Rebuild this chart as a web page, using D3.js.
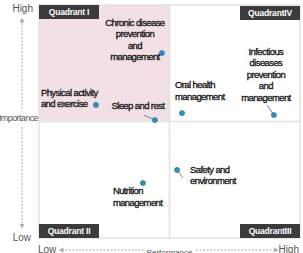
<!DOCTYPE html>
<html>
<head>
<meta charset="utf-8">
<script src="https://cdn.jsdelivr.net/npm/d3@7"></script>
<style>
  body { margin: 0; background: #fff; }
  svg { display: block; font-family: "Liberation Sans", Arial, sans-serif; }
</style>
</head>
<body>
<svg id="chart" width="303" height="253"></svg>
<script>
// data: performance (x) and importance (y), both 0-100
const items = [
  "Chronic disease prevention and management",
  "Physical activity and exercise",
  "Sleep and rest",
  "Oral health management",
  "Infectious diseases prevention and management",
  "Safety and environment",
  "Nutrition management"
];
const performance = [47.1, 21.8, 44.4, 54.8, 90.0, 52.9, 39.8];
const importance = [79.4, 57.1, 50.6, 53.6, 52.8, 29.2, 23.6];
const quadrantNames = ["Quadrant I", "QuadrantIV", "Quadrant II", "QuadrantIII"];
const axisLabels = { low: "Low", high: "High", x: "Performance", y: "Importance" };

// label lines and placement relative to the dot
const labelLines = [
  ["Chronic disease", "prevention", "and", "management"],
  ["Physical activity", "and exercise"],
  ["Sleep and rest"],
  ["Oral health", "management"],
  ["Infectious", "diseases", "prevention", "and", "management"],
  ["Safety and", "environment"],
  ["Nutrition", "management"]
];
const labelLayout = [
  { dx: -27, dy: -27, anchor: "middle", lead: null },
  { dx: -55, dy: -9, anchor: "start", lead: null },
  { dx: -17, dy: -11, anchor: "middle", lead: [-11, -5] },
  { dx: -7, dy: -25, anchor: "start", lead: null },
  { dx: -8, dy: -60, anchor: "middle", lead: [-7, -10] },
  { dx: 13, dy: 3, anchor: "start", lead: [6, 8] },
  { dx: -30, dy: 11, anchor: "start", lead: null }
];

const margin = { top: 5, right: 3, bottom: 15, left: 39 };
const W = 303, H = 253;
const svg = d3.select("#chart");

const x = d3.scaleLinear().domain([0, 100]).range([margin.left, W - margin.right]);
const y = d3.scaleLinear().domain([0, 100]).range([H - margin.bottom, margin.top]);

const x0 = x(0), x1 = x(100), xm = x(50);
const y0 = y(0), y1 = y(100), ym = y(50);

// quadrant I background
svg.append("rect")
  .attr("x", x0).attr("y", y1)
  .attr("width", xm - x0).attr("height", ym - y1)
  .attr("fill", "#f3e0e4");

// frame and dividers
const lineColor = "#e2e2e2";
svg.append("rect")
  .attr("x", x0).attr("y", y1)
  .attr("width", x1 - x0).attr("height", y0 - y1)
  .attr("fill", "none").attr("stroke", lineColor).attr("stroke-width", 1.5);
svg.append("line").attr("x1", xm).attr("x2", xm).attr("y1", y1).attr("y2", y0)
  .attr("stroke", lineColor).attr("stroke-width", 1.5);
svg.append("line").attr("x1", x0).attr("x2", x1).attr("y1", ym).attr("y2", ym)
  .attr("stroke", lineColor).attr("stroke-width", 1.5);

// quadrant tags
const tagW = 60, tagH = 14;
const tagPos = [
  [x0, y1], [x1 - tagW, y1 + 1], [x0, y0 - tagH], [x1 - tagW, y0 - tagH]
];
quadrantNames.forEach((name, i) => {
  const g = svg.append("g").attr("transform", `translate(${tagPos[i][0]},${tagPos[i][1]})`);
  g.append("rect").attr("width", tagW).attr("height", tagH).attr("fill", "#3b3b3b");
  g.append("text")
    .attr("x", tagW / 2).attr("y", tagH / 2 + 3)
    .attr("text-anchor", "middle")
    .attr("font-size", 8.5).attr("font-weight", "bold")
    .attr("letter-spacing", -0.2)
    .attr("fill", "#fff")
    .text(name);
});

// axis decorations
svg.append("defs").append("marker")
  .attr("id", "arr").attr("viewBox", "0 0 6 6")
  .attr("refX", 3).attr("refY", 3)
  .attr("markerWidth", 5).attr("markerHeight", 5)
  .attr("orient", "auto-start-reverse")
  .append("path").attr("d", "M0,0L6,3L0,6Z").attr("fill", "#aaa");

const yAxisX = 22;
svg.append("line").attr("x1", yAxisX).attr("x2", yAxisX).attr("y1", 109).attr("y2", 20)
  .attr("stroke", "#aaa").attr("stroke-dasharray", "2,1.5").attr("marker-end", "url(#arr)");
svg.append("line").attr("x1", yAxisX).attr("x2", yAxisX).attr("y1", 127).attr("y2", 226)
  .attr("stroke", "#aaa").attr("stroke-dasharray", "2,1.5").attr("marker-end", "url(#arr)");

svg.append("text").attr("x", 33).attr("y", 12).attr("text-anchor", "end")
  .attr("font-size", 10).attr("fill", "#555").text(axisLabels.high);
svg.append("text").attr("x", 31).attr("y", 241).attr("text-anchor", "end")
  .attr("font-size", 10).attr("fill", "#555").text(axisLabels.low);
svg.append("text").attr("x", 38).attr("y", 121).attr("text-anchor", "end")
  .attr("font-size", 9).attr("letter-spacing", -0.6).attr("fill", "#555").text(axisLabels.y);

const xAxisY = 250;
svg.append("text").attr("x", 38).attr("y", 253)
  .attr("font-size", 10).attr("fill", "#555").text(axisLabels.low);
svg.append("text").attr("x", 299).attr("y", 253).attr("text-anchor", "end")
  .attr("font-size", 10).attr("fill", "#555").text(axisLabels.high);
svg.append("text").attr("x", xm).attr("y", 255).attr("text-anchor", "middle")
  .attr("font-size", 8).attr("fill", "#555").text(axisLabels.x);
svg.append("line").attr("x1", 144).attr("x2", 61).attr("y1", xAxisY).attr("y2", xAxisY)
  .attr("stroke", "#aaa").attr("stroke-dasharray", "2,1.5").attr("marker-end", "url(#arr)");
svg.append("line").attr("x1", 196).attr("x2", 276).attr("y1", xAxisY).attr("y2", xAxisY)
  .attr("stroke", "#aaa").attr("stroke-dasharray", "2,1.5").attr("marker-end", "url(#arr)");

// points
const pts = items.map((name, i) => ({
  name, px: x(performance[i]), py: y(importance[i]), lines: labelLines[i], lay: labelLayout[i]
}));

const g = svg.append("g");
g.selectAll(".lead").data(pts.filter(d => d.lay.lead)).join("line")
  .attr("x1", d => d.px).attr("y1", d => d.py)
  .attr("x2", d => d.px + d.lay.lead[0]).attr("y2", d => d.py + d.lay.lead[1])
  .attr("stroke", "#4a6b7c").attr("stroke-width", 0.8);

g.selectAll("circle").data(pts).join("circle")
  .attr("cx", d => d.px).attr("cy", d => d.py).attr("r", 2.6)
  .attr("fill", "#2d8fbd").attr("stroke", "#1f6f94").attr("stroke-width", 0.5);

const labels = g.selectAll(".lbl").data(pts).join("text")
  .attr("class", "lbl")
  .attr("text-anchor", d => d.lay.anchor)
  .attr("font-size", 9.5)
  .attr("letter-spacing", -0.6)
  .attr("fill", "#111")
  .attr("stroke", "#111").attr("stroke-width", 0.3);
labels.selectAll("tspan").data(d => d.lines.map((t, k) => ({ t, k, d }))).join("tspan")
  .attr("x", e => e.d.px + e.d.lay.dx)
  .attr("y", e => e.d.py + e.d.lay.dy + e.k * 11.5)
  .text(e => e.t);
</script>
</body>
</html>
